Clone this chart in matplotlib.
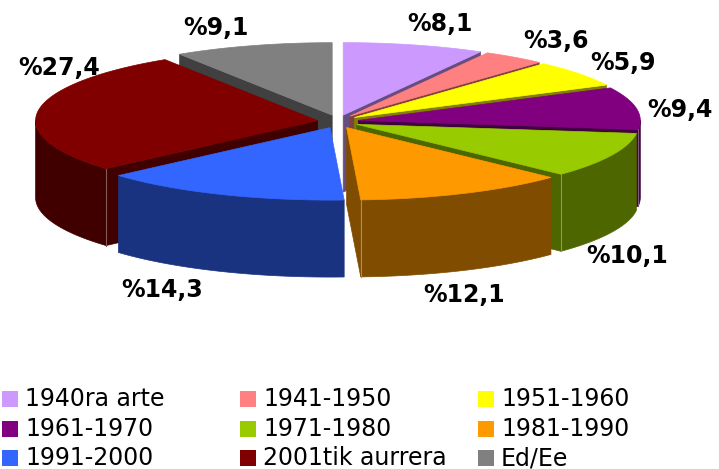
import numpy as np
import matplotlib
matplotlib.use('Agg')
import matplotlib.pyplot as plt
from matplotlib.patches import Polygon, Rectangle
from matplotlib.colors import to_rgb

# data
categories = ['1940ra arte', '1941-1950', '1951-1960', '1961-1970', '1971-1980',
              '1981-1990', '1991-2000', '2001tik aurrera', 'Ed/Ee']
shares = [8.1, 3.6, 5.9, 9.4, 10.1, 12.1, 14.3, 27.4, 9.1]
colors = ['#CC99FF', '#FF8080', '#FFFF00', '#800080', '#99CC00',
          '#FF9900', '#3366FF', '#800000', '#808080']

# layout of the fake 3d pie (pixels, y goes down)
cx, cy = 338, 121.5      # center of the top ellipse
rx, ry = 282, 72.5       # radii of the top ellipse
depth = 77               # height of the walls
explode = 20.6           # explode distance along x
explode_ky = 0.32        # squash of the explode along y
shade = 0.5              # darkening of side faces
# label anchors (center x, baseline y)
label_xy = [(440, 31), (556, 48), (623, 70), (680, 117), (627, 263),
            (464, 302), (162, 297), (59, 75), (216, 35)]


def dark(col):
    r, g, b = to_rgb(col)
    return (r*shade, g*shade, b*shade)


def light(col, f=0.35):
    r, g, b = col
    return (r + (1-r)*f, g + (1-g)*f, b + (1-b)*f)


def rim(px, py, ang):
    # point on the rim of a slice with apex (px, py) at angle ang (deg)
    t = np.radians(ang)
    return px + rx*np.cos(t), py - ry*np.sin(t)


fig = plt.figure(figsize=(7.19, 4.69), dpi=100)
ax = fig.add_axes([0, 0, 1, 1])
ax.set_xlim(0, 719)
ax.set_ylim(469, 0)
ax.axis('off')

# angles of every slice, starting at the top, clockwise
total = sum(shares)
slices = []
start = 90.0
for i, v in enumerate(shares):
    a1 = start
    a2 = start - 360.0*v/total
    mid = (a1 + a2)/2.0
    px = cx + explode*np.cos(np.radians(mid))
    py = cy - explode*explode_ky*np.sin(np.radians(mid))
    slices.append({'i': i, 'a1': a1, 'a2': a2, 'mid': mid, 'apex': (px, py)})
    start = a2

# paint from back to front
slices.sort(key=lambda s: -np.sin(np.radians(s['mid'])))

for s in slices:
    col = colors[s['i']]
    side = dark(col)
    px, py = s['apex']
    a1, a2 = s['a1'], s['a2']

    # flat cut faces
    edges = []
    for ang, visible in ((a1, np.cos(np.radians(a1)) < -1e-6),
                         (a2, np.cos(np.radians(a2)) > 1e-6)):
        if not visible:
            continue
        qx, qy = rim(px, py, ang)
        face = [(px, py), (qx, qy), (qx, qy + depth), (px, py + depth)]
        ax.add_patch(Polygon(face, closed=True, facecolor=side, edgecolor=side, lw=0.5))
        edges.append((qx, qy))

    # outer wall, only the front half is seen
    lo = max(a2, -180.0)
    hi = min(a1, 0.0)
    if hi > lo:
        angs = np.linspace(hi, lo, 80)
        top = [rim(px, py, a) for a in angs]
        bot = [(x, y + depth) for x, y in top[::-1]]
        ax.add_patch(Polygon(top + bot, closed=True, facecolor=side, edgecolor=side, lw=0.5))
        # thin light seam where wall meets cut face
        for qx, qy in edges:
            if np.sin(np.arctan2(-(qy - py), qx - px)) < 0:
                ax.plot([qx, qx], [qy, qy + depth], color=light(side), lw=0.8)

    # top face
    angs = np.linspace(a1, a2, 80)
    pts = [(px, py)] + [rim(px, py, a) for a in angs]
    ax.add_patch(Polygon(pts, closed=True, facecolor=col, edgecolor=col, lw=0.5))

# percent labels
for v, (lx, ly) in zip(shares, label_xy):
    txt = '%' + ('%.1f' % v).replace('.', ',')
    ax.text(lx, ly, txt, ha='center', va='baseline', fontsize=17,
            fontweight='bold', family='DejaVu Sans', color='black')

# legend, 3 columns filled row by row
col_x = [2, 240, 478]
row_y = [391, 421, 450]
for i, name in enumerate(categories):
    x0 = col_x[i % 3]
    y0 = row_y[i // 3]
    ax.add_patch(Rectangle((x0, y0), 16, 16, facecolor=colors[i], edgecolor='none'))
    ax.text(x0 + 23, y0 + 15, name, ha='left', va='baseline', fontsize=17,
            family='DejaVu Sans', color='black')

fig.savefig('out.png', dpi=100, facecolor='white')
